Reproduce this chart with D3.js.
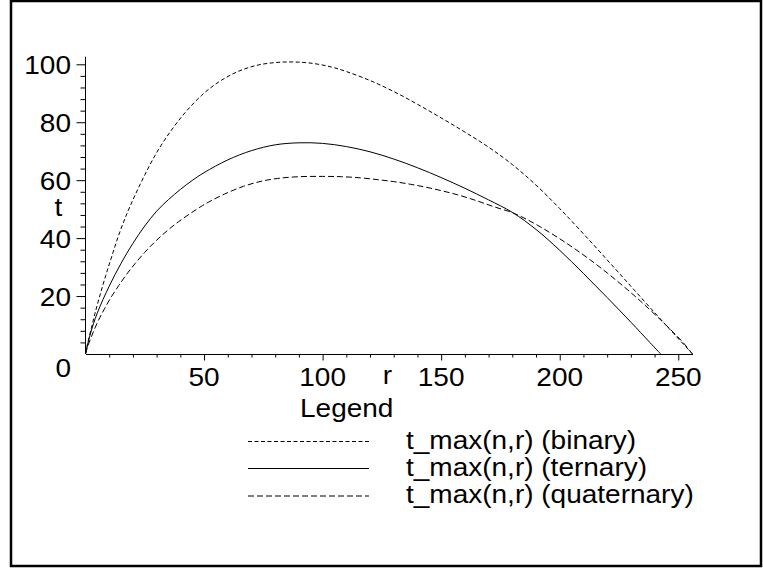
<!DOCTYPE html>
<html>
<head>
<meta charset="utf-8">
<script src="https://cdn.jsdelivr.net/npm/d3@7"></script>
<style>
  html, body { margin: 0; padding: 0; background: #fff; }
  svg { display: block; }
  text { font-family: "Liberation Sans", Arial, Helvetica, sans-serif; fill: #000; }
</style>
</head>
<body>
<svg id="chart" width="763" height="569"></svg>
<script>
// t_max(n, r) against r, for binary, ternary and quaternary alphabets: [r, t]
const binaryPoints = [
  [0,0],[1,4],[2.5,9],[4,14],[6,20],[8.5,27],[11,33.5],[14,41],[17.5,48.5],[21,55],
  [25,61.8],[30,69.5],[36,77],[42,83.3],[49,89.3],[56,93.8],[64,97.4],[72,99.6],[80,100.6],
  [88,100.8],[96,100.3],[104,99],[110,97.5],[120,94.4],[130,90.6],[140,86.2],[150,81.5],
  [160,76.6],[170,71.4],[180,65.4],[190,58.3],[200,50.2],[210,41.5],[220,32.5],[230,23.4],
  [240,14.3],[248,7.1],[256,0]
];
const ternaryPoints = [
  [0,0],[2,6.8],[5,14.2],[10,23.4],[15,31.3],[20,38.2],[25,44.2],[30,49.3],[35,53.3],
  [40,56.8],[45,59.9],[50,62.6],[60,67],[70,70.2],[80,72.2],[90,72.9],[100,72.7],
  [110,71.6],[120,69.8],[130,67.3],[140,64.3],[150,60.9],[160,57.2],[170,53.2],[180,48.9],
  [190,43],[200,35.8],[210,27.8],[220,19.5],[230,11],[238,4],[242.6,0]
];
const quaternaryPoints = [
  [0,0],[1,2.8],[2.5,6],[4,9],[6,12.5],[8,15.6],[10.5,19.2],[14,23.6],[17.8,28],[21,31.3],
  [25,35.1],[29,38.5],[32,40.8],[36,43.6],[40.3,46.3],[48.7,50.9],[52.5,52.7],[58.6,55.2],
  [66.7,57.9],[74,59.6],[81,60.6],[90,61.2],[100,61.3],[108,61.2],[116,60.8],[123,60.2],
  [130,59.5],[137,58.6],[144,57.5],[151,56.2],[158,54.7],[165,52.9],[172,50.9],[180,48.8],
  [186,46.5],[192,43.8],[199,40.3],[206,36.5],[213,32.4],[220,28],[227,23.3],[234,18.3],
  [241,13],[248,7.4],[252,4],[256,0]
];

const seriesNames = ["t_max(n,r) (binary)", "t_max(n,r) (ternary)", "t_max(n,r) (quaternary)"];
const seriesDash = ["4,2.5", null, "6,3"];

const xMajorTicks = [50, 100, 150, 200, 250];
const yMajorTicks = [20, 40, 60, 80, 100];

const FONT = 25;      // label size, px
const STRETCH = 1.12; // horizontal widening of the label face

const svg = d3.select("#chart");

// outer frame
svg.append("rect")
  .attr("x", 11).attr("y", 1).attr("width", 750).attr("height", 565)
  .attr("fill", "none").attr("stroke", "#000").attr("stroke-width", 2.5);

const x = d3.scaleLinear().domain([0, 256]).range([85.5, 692.5]);
const y = d3.scaleLinear().domain([0, 100]).range([354, 64.3]);

// text helper: widened face anchored at (px, py)
function label(parent, str, px, py, anchor) {
  return parent.append("text")
    .attr("transform", `translate(${px},${py}) scale(${STRETCH},1)`)
    .attr("text-anchor", anchor || "start")
    .style("font-size", FONT + "px")
    .text(str);
}

// x axis: minor ticks every 10, major every 50
const xMinor = d3.range(10, 251, 10).filter(v => v % 50 !== 0);
svg.append("g").attr("transform", `translate(0,${y(0)})`)
  .call(d3.axisBottom(x).tickValues(xMinor).tickSize(3.5).tickFormat(""))
  .call(g => g.select(".domain").remove());
const gx = svg.append("g").attr("transform", `translate(0,${y(0)})`)
  .call(d3.axisBottom(x).tickValues(xMajorTicks).tickSize(6.5).tickSizeOuter(0).tickFormat(""));
gx.select(".domain").attr("stroke-width", 1);
xMajorTicks.forEach(v => label(svg, String(v), x(v), 386, "middle"));

// y axis: minor ticks every 4, major every 20
const yMinor = d3.range(4, 101, 4).filter(v => v % 20 !== 0);
svg.append("g").attr("transform", `translate(${x(0)},0)`)
  .call(d3.axisLeft(y).tickValues(yMinor).tickSize(5).tickFormat(""))
  .call(g => g.select(".domain").remove());
const gy = svg.append("g").attr("transform", `translate(${x(0)},0)`)
  .call(d3.axisLeft(y).tickValues(yMajorTicks).tickSize(9).tickSizeOuter(0).tickFormat(""));
gy.select(".domain").attr("d", `M0,${y(0)}V${y(102.6)}`).attr("stroke-width", 1);
yMajorTicks.forEach(v => label(svg, String(v), 71, y(v) + 10, "end"));
label(svg, "0", 71, 377, "end");

// axis titles
label(svg, "t", 58.5, 216, "middle");
label(svg, "r", 387.5, 383.5, "middle");

// curves
const line = d3.line().x(d => x(d[0])).y(d => y(d[1])).curve(d3.curveCatmullRom.alpha(0.5));
[binaryPoints, ternaryPoints, quaternaryPoints].forEach((pts, i) => {
  svg.append("path")
    .datum(pts)
    .attr("d", line)
    .attr("fill", "none")
    .attr("stroke", "#000")
    .attr("stroke-width", 1)
    .attr("stroke-dasharray", seriesDash[i]);
});

// legend
label(svg, "Legend", 300, 416.5, "start");
const legendRows = [441.5, 468.5, 496];
seriesNames.forEach((name, i) => {
  svg.append("line")
    .attr("x1", 248).attr("x2", 369)
    .attr("y1", legendRows[i]).attr("y2", legendRows[i])
    .attr("stroke", "#000").attr("stroke-width", 1)
    .attr("stroke-dasharray", seriesDash[i]);
  label(svg, name, 406, legendRows[i] + 7, "start");
});
</script>
</body>
</html>
